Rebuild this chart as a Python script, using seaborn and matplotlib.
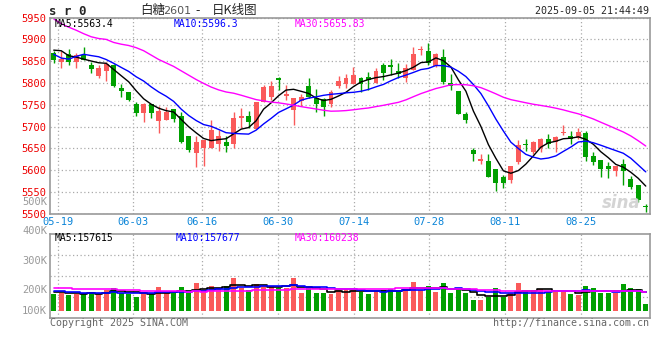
import matplotlib
matplotlib.use("Agg")
import matplotlib.pyplot as plt
import numpy as np
import pandas as pd
import seaborn as sns

# SR601 daily bars, 2025-05-16 .. 2025-09-05
opens = [5868, 5849, 5866, 5849, 5864, 5841, 5816, 5827, 5841, 5789,
         5779, 5752, 5732, 5753, 5714, 5715, 5740, 5724, 5679, 5639,
         5650, 5650, 5660, 5666, 5660, 5721, 5725, 5695, 5757, 5769,
         5811, 5771, 5738, 5759, 5793, 5765, 5763, 5753, 5793, 5799,
         5799, 5811, 5814, 5801, 5841, 5841, 5827, 5811, 5830, 5875,
         5873, 5840, 5859, 5801, 5782, 5730, 5646, 5622, 5621, 5603,
         5585, 5578, 5620, 5661, 5643, 5650, 5672, 5664, 5686, 5679,
         5673, 5686, 5633, 5624, 5610, 5599, 5614, 5580, 5566, 5518]
highs = [5873, 5873, 5879, 5869, 5882, 5849, 5841, 5849, 5843, 5798,
         5780, 5757, 5755, 5753, 5747, 5746, 5740, 5734, 5679, 5679,
         5669, 5715, 5692, 5679, 5733, 5744, 5736, 5756, 5795, 5805,
         5815, 5795, 5765, 5775, 5812, 5786, 5765, 5784, 5816, 5821,
         5836, 5815, 5826, 5835, 5847, 5856, 5845, 5843, 5883, 5885,
         5893, 5870, 5878, 5822, 5782, 5734, 5650, 5637, 5637, 5603,
         5589, 5610, 5670, 5672, 5667, 5675, 5683, 5679, 5704, 5689,
         5698, 5690, 5643, 5624, 5618, 5611, 5626, 5587, 5566, 5522]
lows = [5847, 5835, 5841, 5835, 5853, 5824, 5811, 5805, 5792, 5769,
        5759, 5725, 5711, 5721, 5686, 5715, 5710, 5662, 5643, 5608,
        5611, 5650, 5644, 5643, 5650, 5696, 5696, 5695, 5757, 5761,
        5784, 5761, 5705, 5748, 5765, 5734, 5725, 5746, 5788, 5788,
        5799, 5779, 5784, 5801, 5807, 5818, 5811, 5803, 5830, 5864,
        5841, 5837, 5799, 5784, 5728, 5709, 5622, 5614, 5585, 5553,
        5560, 5572, 5614, 5645, 5637, 5641, 5650, 5641, 5681, 5660,
        5671, 5622, 5612, 5585, 5582, 5588, 5566, 5556, 5528, 5504]
closes = [5854, 5855, 5849, 5864, 5853, 5832, 5835, 5843, 5793, 5782,
          5762, 5732, 5751, 5731, 5736, 5734, 5717, 5666, 5647, 5666,
          5669, 5692, 5679, 5656, 5721, 5724, 5710, 5756, 5790, 5793,
          5806, 5775, 5765, 5767, 5769, 5753, 5746, 5779, 5805, 5812,
          5818, 5799, 5807, 5827, 5824, 5837, 5820, 5835, 5866, 5877,
          5845, 5866, 5803, 5793, 5730, 5715, 5638, 5627, 5585, 5572,
          5572, 5610, 5658, 5659, 5666, 5672, 5660, 5676, 5688, 5672,
          5688, 5631, 5620, 5602, 5604, 5611, 5599, 5562, 5532, 5515]
volumes = [138000, 149000, 130000, 138000, 144000, 158000, 138000, 171000, 188000, 144000,
           138000, 116000, 158000, 138000, 196000, 144000, 144000, 196000, 144000, 232000,
           171000, 205000, 191000, 205000, 274000, 185000, 171000, 224000, 213000, 205000,
           185000, 191000, 274000, 149000, 199000, 149000, 144000, 141000, 171000, 180000,
           171000, 158000, 138000, 166000, 171000, 177000, 166000, 180000, 238000, 171000,
           205000, 158000, 227000, 144000, 177000, 144000, 89000, 89000, 116000, 185000,
           116000, 144000, 227000, 166000, 171000, 177000, 166000, 158000, 158000, 138000,
           130000, 205000, 185000, 144000, 144000, 144000, 221000, 188000, 177000, 55000]

# sessions before the window, they only feed the moving averages
prev_closes = [6185, 6089, 6074, 6093, 6042, 5955, 5903, 6003, 5902, 5852,
               5882, 5961, 6031, 6036, 5974, 5957, 5966, 5947, 5966, 5939,
               5940, 5875, 5800, 5805, 5862, 5862, 5906, 5880, 5876]
prev_volumes = [232000, 198000, 215000, 187000, 241000, 206000, 179000, 224000, 193000, 211000,
                198000, 230000, 185000, 207000, 219000, 176000, 203000, 226000, 190000, 200000,
                181000, 166000, 172000, 185000, 166000, 148000, 162000, 151000, 161000]

date_labels = ["05-19", "06-03", "06-16", "06-30", "07-14", "07-28", "08-11", "08-25"]
date_index = [1, 11, 20, 30, 40, 50, 60, 70]

price_ticks = [5500, 5550, 5600, 5650, 5700, 5750, 5800, 5850, 5900, 5950]
price_ma_text = ["MA5:5563.4", "MA10:5596.3", "MA30:5655.83"]
vol_ma_text = ["MA5:157615", "MA10:157677", "MA30:160238"]
vol_tick_labels = ["500K", "400K", "300K", "200K", "100K"]

RED = "#fa5a5a"
GREEN = "#00a000"
MA_COLORS = ["black", "#0000ff", "#ff00ff"]
GRID = "#aaaaaa"
FRAME = "#999999"
MONO = "DejaVu Sans Mono"

sns.set_style("white")
plt.rcParams["font.family"] = ["DejaVu Sans", "Noto Sans CJK SC"]

n = len(closes)
x = np.arange(n)
o = np.array(opens, float)
h = np.array(highs, float)
l = np.array(lows, float)
c = np.array(closes, float)
v = np.array(volumes, float)
colors = np.where(c >= o, RED, GREEN)

k = len(prev_closes)
all_c = pd.Series(prev_closes + closes, dtype=float)
all_v = pd.Series(prev_volumes + volumes, dtype=float)
price_ma = [all_c.rolling(w).mean().iloc[k:].to_numpy() for w in (5, 10, 30)]
vol_ma = [all_v.rolling(w).mean().iloc[k:].to_numpy() for w in (5, 10, 30)]

W, H = 660, 360
fig = plt.figure(figsize=(W / 100, H / 100), dpi=100)
ax_p = fig.add_axes([50 / W, 1 - 213.9 / H, 599.5 / W, 196.2 / H])
ax_v = fig.add_axes([50 / W, 1 - 317.7 / H, 599.5 / W, 83.4 / H])

# sina puts the date lines on a slightly wider pitch than the bars
grid_x = np.array(date_index) * n / (n - 1) - 0.5

# ---- price panel
ax_p.vlines(x, l, h, colors=colors, lw=1)
body = np.maximum(np.abs(c - o), 2.2)
ax_p.bar(x, body, bottom=np.minimum(o, c), width=0.66, color=colors, lw=0)
for ma, col in zip(price_ma, MA_COLORS):
    sns.lineplot(x=x, y=ma, ax=ax_p, color=col, lw=1)

ax_p.set_xlim(-0.5, n - 0.5)
ax_p.set_ylim(5500, 5950)
ax_p.set_yticks(price_ticks)
ax_p.set_yticklabels([str(t) for t in price_ticks], family=MONO, fontsize=7.5, color="#ee0000")
ax_p.set_xticks(grid_x)
ax_p.set_xticklabels(date_labels, family=MONO, fontsize=7.5, color="#0a84d8")
ax_p.tick_params(length=0, pad=2.5)
ax_p.grid(True, linestyle=(0, (1, 2)), color=GRID, lw=0.9)

for t, xa, col in zip(price_ma_text, [0.0085, 0.207, 0.4075], MA_COLORS):
    ax_p.text(xa, 0.968, t, transform=ax_p.transAxes, family=MONO, fontsize=7,
              color=col, va="center", ha="left")

ax_p.text(0.953, 0.055, "sina", transform=ax_p.transAxes, fontsize=12, color="#d4d4d4",
          fontweight="bold", style="italic", ha="center", va="center")

# ---- volume panel
ax_v.bar(x, v, width=0.66, color=colors, lw=0)
for ma, col in zip(vol_ma, MA_COLORS):
    sns.lineplot(x=x, y=ma, ax=ax_v, color=col, lw=1.2, drawstyle="steps-mid")

v_lo, v_hi = -58000, 634000
ax_v.set_xlim(-0.5, n - 0.5)
ax_v.set_ylim(v_lo, v_hi)
ax_v.set_xticks(grid_x)
ax_v.set_xticklabels([])
ax_v.set_yticks(np.linspace(v_lo, v_hi, 5)[1:-1])
ax_v.set_yticklabels([])
ax_v.tick_params(length=0)
ax_v.grid(True, linestyle=(0, (1, 2)), color=GRID, lw=0.9)

# sina's own odd placement of the volume scale
vol_label_y = [904000, 661000, 410000, 169000, 0]
for t, yv in zip(vol_tick_labels, vol_label_y):
    ax_v.text(-0.005, yv, t, transform=ax_v.get_yaxis_transform(), family=MONO,
              fontsize=7.5, color="#999999", ha="right", va="center", clip_on=False)

for t, xa, col in zip(vol_ma_text, [0.0085, 0.209, 0.4075], MA_COLORS):
    ax_v.text(xa, 0.952, t, transform=ax_v.transAxes, family=MONO, fontsize=7,
              color=col, va="center", ha="left")

for ax in (ax_p, ax_v):
    for s in ax.spines.values():
        s.set_color(FRAME)
        s.set_linewidth(1.2)
    ax.set_xlabel("")
    ax.set_ylabel("")

# ---- header / footer
def px(xp, yp):
    return xp / W, 1 - yp / H

fig.text(*px(49, 11.5), "s r 0", family=MONO, fontweight="bold", fontsize=9,
         ha="left", va="center")
cjk = ["Noto Sans CJK SC", "DejaVu Sans"]
fig.text(*px(140, 10.5), "白糖", family=cjk, fontsize=9, ha="left", va="center")
fig.text(*px(163, 10.5), "2601", family="DejaVu Sans", fontsize=8, color="#555555",
         ha="left", va="center")
fig.text(*px(195, 10.5), "-", family=cjk, fontsize=9, ha="left", va="center")
fig.text(*px(212, 10.5), "日K线图", family=cjk, fontsize=9, ha="left", va="center")
fig.text(*px(649, 11), "2025-09-05 21:44:49", family=MONO, fontsize=7.2,
         ha="right", va="center")
fig.text(*px(50, 323.5), "Copyright 2025 SINA.COM", family=MONO, fontsize=7.2,
         color="#666666", ha="left", va="center")
fig.text(*px(649.3, 323.5), "http://finance.sina.com.cn", family=MONO, fontsize=7.2,
         color="#666666", ha="right", va="center")

fig.savefig("out.png", dpi=100)
